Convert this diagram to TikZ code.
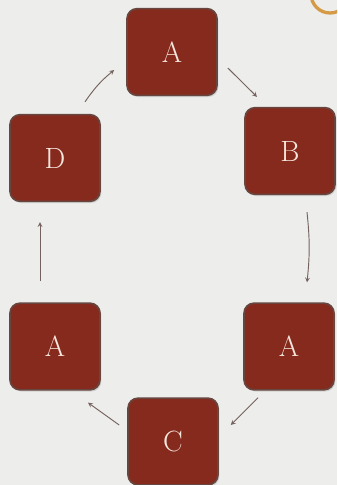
\documentclass[tikz,border=0pt]{standalone}
\usepackage{tikz}
\usetikzlibrary{arrows.meta, shadows}
\tikzset{>=stealth}
\definecolor{boxred}{HTML}{862A1E}
\definecolor{boxedge}{HTML}{674640}
\definecolor{boxtext}{HTML}{F6E7DD}
\definecolor{arrowgray}{HTML}{74625F}
\definecolor{bgpaper}{HTML}{EDEDEB}
\definecolor{ringgold}{HTML}{D49A45}
\tikzset{
  box/.style={rectangle, rounded corners=0.3cm, fill=boxred, draw=boxedge, line width=1.4pt,
    minimum width=2.7cm, minimum height=2.6cm, text=boxtext,
    font=\fontsize{25}{30}\selectfont, drop shadow={opacity=0.25, shadow xshift=0.04cm, shadow yshift=-0.05cm}},
  link/.style={->, arrowgray, line width=0.8pt}
}

\begin{document}
\begin{tikzpicture}[x=0.03cm, y=-0.03cm]
	\fill [bgpaper] (0,0) rectangle (337,485);
	\useasboundingbox (0,0) rectangle (337,485);
	\begin{scope}
		\clip (0,0) rectangle (337,485);
		\draw [ringgold, line width=2.8pt] (330,-6) circle (19);
	\end{scope}
	\node [box] (top) at (172,52) {A};
	\node [box] (b) at (290,151) {B};
	\node [box] (d) at (55,158) {D};
	\node [box] (bl) at (55,346.5) {A};
	\node [box] (br) at (289,346.5) {A};
	\node [box] (c) at (173,441.5) {C};
	\draw [link] ([shift={(10,16)}]top.east) -- ([shift={(-33,-10)}]b.north);
	\draw [link] ([shift={(17,17)}]b.south) to [bend left=6] ([shift={(18,-20)}]br.north);
	\draw [link] ([shift={(-31,7)}]br.south) -- ([shift={(12,-16.5)}]c.east);
	\draw [link] ([shift={(-8,-16.5)}]c.west) -- ([shift={(33,12)}]bl.south);
	\draw [link] ([shift={(-15,-21)}]bl.north) -- ([shift={(-15,20)}]d.south);
	\draw [link] ([shift={(30,-12)}]d.north) to [bend left=8] ([shift={(-12,18)}]top.west);
\end{tikzpicture}
\end{document}
